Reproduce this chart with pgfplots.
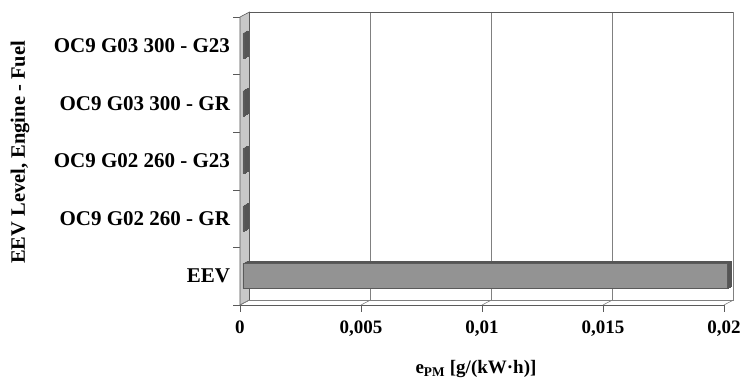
\documentclass[border=0pt]{standalone}
\usepackage{fontspec}
\setmainfont{Liberation Serif}
\usepackage{pgfplots}
\usepackage{pgfplotstable}
\pgfplotsset{compat=1.18}
\definecolor{wallgray}{HTML}{C8C8C8}
\definecolor{edgegray}{HTML}{5A5A5A}
\definecolor{gridgray}{HTML}{808080}
\definecolor{barface}{HTML}{939393}
\definecolor{barrim}{HTML}{555555}

% particulate emission per category (0 = EEV limit at the bottom)
\pgfplotstableread{
idx value
0 0.02
1 0.00005
2 0.00005
3 0.00005
4 0.00005
}\pmdata

\begin{document}
\begin{tikzpicture}[font=\fontsize{19}{22}\selectfont\bfseries]
\useasboundingbox (-240pt,-73pt) rectangle (513pt,305pt);
\begin{axis}[
  at={(0,0)}, anchor=south west,
  scale only axis, width=484pt, height=288pt,
  xmin=0, xmax=0.02, ymin=-0.5, ymax=4.5,
  clip=false,
  axis line style={draw=none},
  scaled x ticks=false,
  tick align=outside, major tick length=6.5pt,
  xtick pos=bottom, ytick pos=left,
  tick style={edgegray, line width=0.6pt},
  xtick={0,0.005,0.01,0.015,0.02},
  xticklabels={0,{0,005},{0,01},{0,015},{0,02}},
  ytick={-0.5,0.5,1.5,2.5,3.5,4.5},
  y tick label as interval,
  yticklabels={EEV,OC9 G02 260 - GR,OC9 G02 260 - G23,OC9 G03 300 - GR,OC9 G03 300 - G23},
  xticklabel style={yshift=-6pt},
  yticklabel style={font=\fontsize{21}{24}\selectfont\bfseries},
  xmajorgrids,
  major x grid style={gridgray, line width=0.6pt, xshift=9.5pt, yshift=5pt},
  xlabel={e\textsubscript{PM} [g/(kW·h)]},
  ylabel={EEV Level, Engine - Fuel},
  xlabel style={at={(axis description cs:0.5,0)}, anchor=center, yshift=-64pt, xshift=-6pt},
  ylabel style={at={([xshift=-220pt]axis description cs:0,0.53)}, anchor=center,
    font=\fontsize{20.5}{24}\selectfont\bfseries},
]
% side wall on the left
\filldraw[fill=wallgray, draw=edgegray, line width=0.6pt]
  (rel axis cs:0,0) -- (rel axis cs:0,1)
  -- ([shift={(9.5pt,5pt)}]rel axis cs:0,1)
  -- ([shift={(9.5pt,5pt)}]rel axis cs:0,0) -- cycle;
% back wall outline
\draw[edgegray, line width=0.8pt]
  ([shift={(9.5pt,5pt)}]rel axis cs:0,1) -- ([shift={(9.5pt,5pt)}]rel axis cs:1,1);
\draw[gridgray, line width=0.6pt]
  ([shift={(9.5pt,5pt)}]rel axis cs:1,1) -- ([shift={(9.5pt,5pt)}]rel axis cs:1,0)
  -- ([shift={(9.5pt,5pt)}]rel axis cs:0,0);
% floor
\draw[edgegray, line width=0.6pt] (rel axis cs:0,0) -- (rel axis cs:1,0);
\pgfplotsinvokeforeach{0,0.005,0.01,0.015,0.02}{
  \draw[gridgray, line width=0.6pt] (axis cs:#1,-0.5) -- ++(9.5pt,5pt);
}
% bars: dark extrusion built from stacked copies, lighter front face on top
\addplot[xbar, bar width=25pt, fill=barrim, draw=barrim, xshift=7pt, yshift=2.5pt]
  table[x=value, y=idx] {\pmdata};
\addplot[xbar, bar width=25pt, fill=barrim, draw=barrim, xshift=6pt, yshift=1.9pt]
  table[x=value, y=idx] {\pmdata};
\addplot[xbar, bar width=25pt, fill=barrim, draw=barrim, xshift=5pt, yshift=1.25pt]
  table[x=value, y=idx] {\pmdata};
\addplot[xbar, bar width=25pt, fill=barrim, draw=barrim, xshift=4pt, yshift=0.6pt]
  table[x=value, y=idx] {\pmdata};
\addplot[xbar, bar width=25pt, fill=barface, draw=edgegray, line width=0.5pt, xshift=3pt]
  table[x=value, y=idx] {\pmdata};
\end{axis}
\end{tikzpicture}
\end{document}
